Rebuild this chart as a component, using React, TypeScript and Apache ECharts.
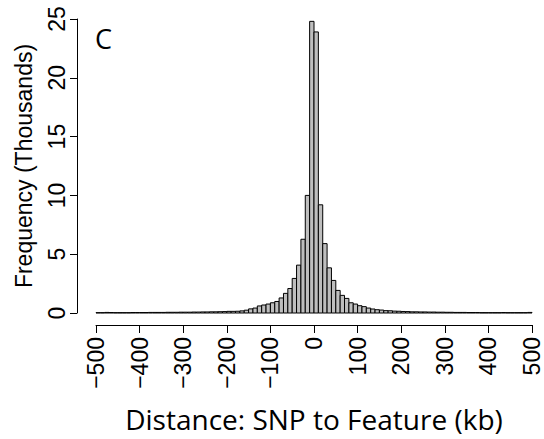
import React, { useEffect, useRef } from "react";
import * as echarts from "echarts";

// Histogram of SNP-to-feature distances, bins of 10 kb from -500 to 500 (frequency in thousands)
const binStart = -500;
const binWidth = 10;
const frequencies: number[] = [
  // -500 .. -130
  0.03, 0.03, 0.05, 0.04, 0.03, 0.03, 0.03, 0.03, 0.04, 0.04,
  0.04, 0.04, 0.05, 0.05, 0.05, 0.05, 0.06, 0.06, 0.06, 0.07,
  0.07, 0.07, 0.08, 0.08, 0.09, 0.09, 0.1, 0.1, 0.11, 0.12,
  0.14, 0.14, 0.15, 0.18, 0.24, 0.35, 0.42, 0.6,
  // -120 .. -10
  0.68, 0.76, 0.87, 0.98, 1.28, 1.67, 2.08, 2.94, 4.07, 6.27, 10.0, 24.8,
  // 0 .. 110
  23.9, 9.2, 5.9, 3.84, 2.77, 1.92, 1.5, 1.24, 0.87, 0.76, 0.62, 0.54,
  // 120 .. 490
  0.42, 0.34, 0.28, 0.25, 0.2, 0.19, 0.16, 0.15, 0.13, 0.12,
  0.1, 0.1, 0.09, 0.09, 0.08, 0.08, 0.07, 0.07, 0.06, 0.06,
  0.05, 0.05, 0.05, 0.04, 0.04, 0.04, 0.03, 0.03, 0.03, 0.03,
  0.03, 0.04, 0.03, 0.03, 0.03, 0.03, 0.03, 0.05,
];

const xTicks = { min: -500, max: 500, interval: 100 };
const yTicks = { min: 0, max: 25, interval: 5 };
const panelLabel = "C";
const xTitle = "Distance: SNP to Feature (kb)";
const yTitle = "Frequency (Thousands)";

export default function App() {
  const ref = useRef<HTMLDivElement>(null);
  useEffect(() => {
    if (!ref.current) return;
    const chart = echarts.init(ref.current, null, { renderer: "svg" });
    const data = frequencies.map((f, i) => [
      binStart + i * binWidth,
      binStart + (i + 1) * binWidth,
      f,
    ]);
    const axisFont = "'Liberation Sans', Arial, sans-serif";
    const titleFont = "'Open Sans', 'Noto Sans', sans-serif";
    chart.setOption({
      animation: false,
      backgroundColor: "#ffffff",
      grid: { left: 96, right: 12, top: 19, bottom: 126 },
      xAxis: {
        type: "value",
        min: xTicks.min,
        max: xTicks.max,
        interval: xTicks.interval,
        offset: 12,
        splitLine: { show: false },
        axisLine: { show: true, onZero: false, lineStyle: { color: "#000", width: 1 } },
        axisTick: { show: true, length: 8, lineStyle: { color: "#000", width: 1 } },
        axisLabel: {
          rotate: 90,
          margin: 12,
          color: "#000",
          fontSize: 23,
          fontFamily: axisFont,
          formatter: (v: number) => (v < 0 ? "\u2212" + Math.abs(v) : String(v)),
        },
        name: xTitle,
        nameLocation: "middle",
        nameGap: 80,
        nameTextStyle: { color: "#000", fontSize: 28, fontFamily: titleFont },
      },
      yAxis: {
        type: "value",
        min: yTicks.min,
        max: yTicks.max,
        interval: yTicks.interval,
        offset: 19,
        splitLine: { show: false },
        axisLine: { show: true, onZero: false, lineStyle: { color: "#000", width: 1 } },
        axisTick: { show: true, length: 7, lineStyle: { color: "#000", width: 1 } },
        axisLabel: {
          rotate: 90,
          margin: 9,
          color: "#000",
          fontSize: 23,
          fontFamily: axisFont,
        },
        name: yTitle,
        nameLocation: "middle",
        nameGap: 42,
        nameTextStyle: { color: "#000", fontSize: 23, fontFamily: axisFont },
      },
      graphic: [
        {
          type: "text",
          left: 95,
          top: 25,
          style: { text: panelLabel, fontSize: 27, fontFamily: titleFont, fill: "#000" },
        },
      ],
      series: [
        {
          type: "custom",
          data,
          encode: { x: [0, 1], y: 2 },
          renderItem: (params: any, api: any) => {
            const p0 = api.coord([api.value(0), api.value(2)]);
            const p1 = api.coord([api.value(1), 0]);
            return {
              type: "rect",
              shape: { x: p0[0], y: p0[1], width: p1[0] - p0[0], height: p1[1] - p0[1] },
              style: { fill: "#bebebe", stroke: "#000", lineWidth: 1 },
            };
          },
        },
      ],
    });
    return () => chart.dispose();
  }, []);
  return (
    <div
      ref={ref}
      style={{ position: "fixed", left: 0, top: 0, width: 544, height: 439 }}
    />
  );
}
